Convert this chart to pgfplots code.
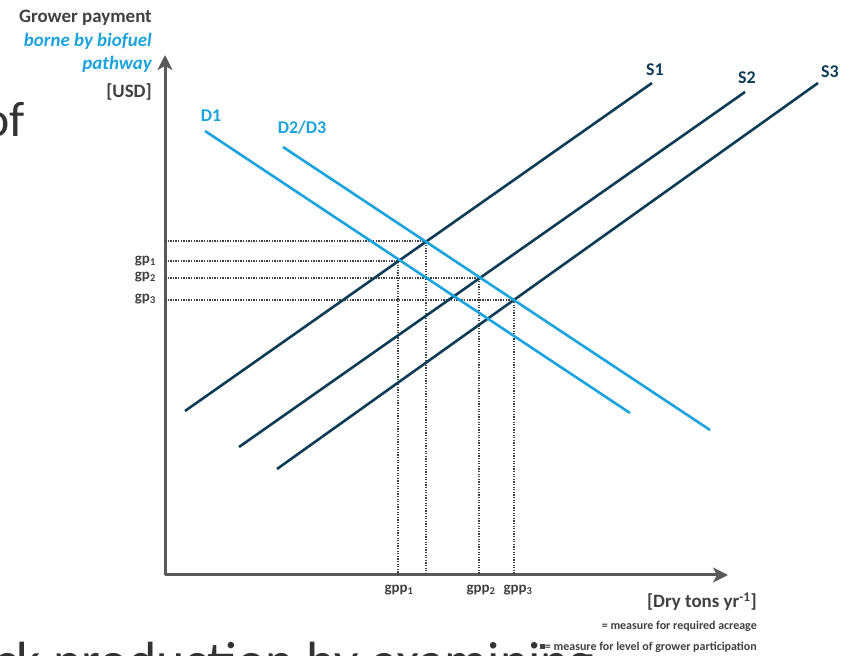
\documentclass[border=0pt]{standalone}
\usepackage{fontspec}
\setmainfont{Carlito}
\usepackage{pgfplots}
\pgfplotsset{compat=1.18}
\usetikzlibrary{arrows.meta}
\definecolor{dcyan}{HTML}{1BA3DD}
\definecolor{sdark}{HTML}{0E3B56}
\definecolor{axgray}{HTML}{595959}
\definecolor{txgray}{HTML}{404040}
\definecolor{bgtext}{HTML}{333333}
\begin{document}
\begin{tikzpicture}[x=1bp,y=1bp]
\useasboundingbox (0,0) rectangle (842,656);
% background slide fragments
\begin{scope}
\clip (0,0) rectangle (842,656);
\node[anchor=base west,inner sep=0pt,text=bgtext,font=\fontsize{50}{60}\selectfont] at (-17,519) {of};
\node[anchor=base west,inner sep=0pt,text=bgtext,font=\fontsize{54}{60}\selectfont] at (-6,-24) {ck production by examining};
\end{scope}
\begin{axis}[
  at={(165bp,81bp)}, anchor=south west,
  scale only axis, width=563bp, height=520bp,
  xmin=165, xmax=728, ymin=81, ymax=601,
  axis lines=left,
  axis line style={line width=3bp, color=axgray, -{Stealth[length=15bp,width=15bp,inset=4bp]}},
  xtick=\empty, ytick=\empty,
  clip=false,
]
% dotted guides
\pgfplotsset{guide/.style={line width=1.2bp, color=txgray, dash pattern=on 1.3bp off 1.3bp}}
\addplot[guide] coordinates {(165,415) (426,415) (426,81)};
\addplot[guide] coordinates {(165,395) (398,395) (398,81)};
\addplot[guide] coordinates {(165,378) (479,378) (479,81)};
\addplot[guide] coordinates {(165,356) (514,356) (514,81)};
% supply
\addplot[line width=2.6bp, color=sdark] coordinates {(185,245) (652,573)};
\addplot[line width=2.6bp, color=sdark] coordinates {(239,209) (745,564)};
\addplot[line width=2.6bp, color=sdark] coordinates {(277,187) (818,573)};
% demand
\addplot[line width=2.6bp, color=dcyan] coordinates {(205,525) (630,243)};
\addplot[line width=2.6bp, color=dcyan] coordinates {(283,509) (710,226)};
\end{axis}
% axis titles
\begin{scope}[every node/.style={inner sep=0pt, font=\bfseries\fontsize{19}{22}\selectfont}]
\node[anchor=base east,text=txgray] at (152,633) {Grower payment};
\node[anchor=base east,text=dcyan,font=\bfseries\itshape\fontsize{19}{22}\selectfont] at (152,609) {borne by biofuel};
\node[anchor=base east,text=dcyan,font=\bfseries\itshape\fontsize{19}{22}\selectfont] at (152,586) {pathway};
\node[anchor=base east,text=txgray] at (152,558) {[USD]};
\node[anchor=east,text=txgray] at (757,54) {[Dry tons yr\textsuperscript{-1}]};
% curve labels
\node[text=sdark,font=\bfseries\fontsize{18}{20}\selectfont] at (655,586) {S1};
\node[text=sdark,font=\bfseries\fontsize{18}{20}\selectfont] at (747,578) {S2};
\node[text=sdark,font=\bfseries\fontsize{18}{20}\selectfont] at (830,584) {S3};
\node[text=dcyan,font=\bfseries\fontsize{18}{20}\selectfont] at (211,540) {D1};
\node[text=dcyan,font=\bfseries\fontsize{18}{20}\selectfont] at (302,528) {D2/D3};
% value labels
\node[anchor=east,text=txgray,font=\bfseries\fontsize{15}{17}\selectfont] at (156,395) {gp\textsubscript{1}};
\node[anchor=east,text=txgray,font=\bfseries\fontsize{15}{17}\selectfont] at (156,379) {gp\textsubscript{2}};
\node[anchor=east,text=txgray,font=\bfseries\fontsize{15}{17}\selectfont] at (156,357) {gp\textsubscript{3}};
\node[text=txgray,font=\bfseries\fontsize{15}{17}\selectfont] at (399,66) {gpp\textsubscript{1}};
\node[text=txgray,font=\bfseries\fontsize{15}{17}\selectfont] at (481,66) {gpp\textsubscript{2}};
\node[text=txgray,font=\bfseries\fontsize{15}{17}\selectfont] at (518,66) {gpp\textsubscript{3}};
% notes
\node[anchor=east,text=txgray,font=\bfseries\fontsize{12}{14}\selectfont] at (757,30) {= measure for required acreage};
\node[anchor=east,text=txgray,font=\bfseries\fontsize{12}{14}\selectfont] at (757,9) {\rule[1bp]{5bp}{5bp}= measure for level of grower participation};
\end{scope}
\end{tikzpicture}
\end{document}
